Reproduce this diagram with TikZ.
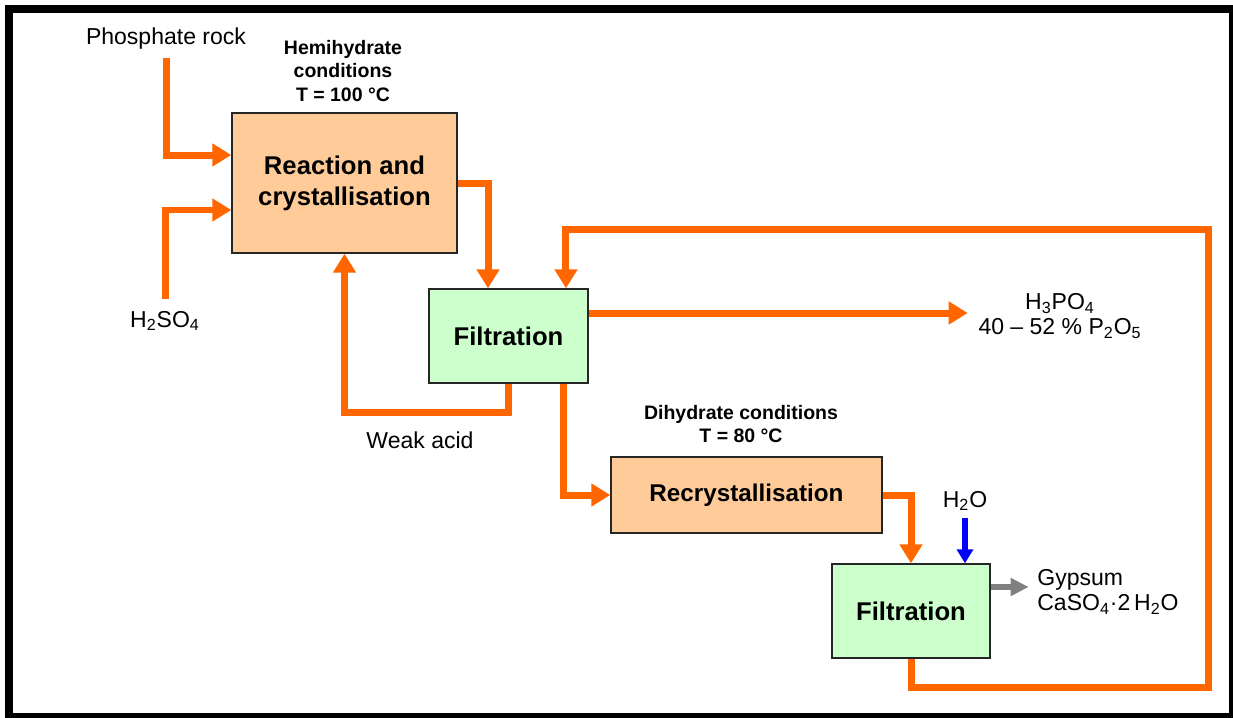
\documentclass[tikz,border=0pt]{standalone}
\usepackage{fontspec}
\setmainfont{Liberation Sans}
\usetikzlibrary{arrows.meta}

\definecolor{orangestream}{HTML}{FF6600}
\definecolor{peach}{HTML}{FFCC99}
\definecolor{mint}{HTML}{CCFFCC}

\begin{document}
\begin{tikzpicture}[x=0.02cm,y=-0.02cm,
		unitbox/.style={draw=black!85,line width=0.8pt,align=center,inner sep=0pt,
			font=\fontsize{14.6}{17.6}\selectfont\bfseries},
		hot/.style={unitbox,fill=peach},
		cold/.style={unitbox,fill=mint},
		note/.style={font=\fontsize{13.1}{14.4}\selectfont,align=center,inner sep=0pt},
		cond/.style={font=\fontsize{11.1}{13.4}\selectfont\bfseries,align=center,inner sep=0pt},
		stream/.style={draw=orangestream,line width=0.14cm,-{Triangle[length=0.38cm,width=0.44cm]}},
		water/.style={draw=blue,line width=0.12cm,-{Triangle[length=0.28cm,width=0.32cm]}},
		waste/.style={draw=gray,line width=0.13cm,-{Triangle[length=0.36cm,width=0.34cm]}}]
	\clip (0,0) rectangle (1233,717);
	\draw[line width=0.16cm] (9,9) rectangle (1233,717);
	% process units
	\node[hot,minimum width=4.5cm,minimum height=2.8cm] (rxn) at (344.5,183) {Reaction and\\crystallisation};
	\node[cold,minimum width=3.18cm,minimum height=1.88cm] (filt1) at (508.5,336) {Filtration};
	\node[hot,minimum width=5.42cm,minimum height=1.52cm,font=\fontsize{13.8}{16}\selectfont\bfseries] (recryst) at (746.5,495) {Recrystallisation};
	\node[cold,minimum width=3.16cm,minimum height=1.88cm] (filt2) at (911,611) {Filtration};
	% streams in and out
	\node[note,anchor=base] (rock) at (166,44) {Phosphate rock};
	\node[note,anchor=base] (acid) at (165,327) {H\textsubscript{2}SO\textsubscript{4}};
	\node[note] (weak) at (420,440) {Weak acid};
	\node[note] (prod) at (1060,316) {H\textsubscript{3}PO\textsubscript{4}\\40 -- 52 \% P\textsubscript{2}O\textsubscript{5}};
	\node[note,anchor=base] (h2o) at (965,507) {H\textsubscript{2}O};
	\node[note,anchor=west,align=left] (gyp) at (1037,592) {Gypsum\\CaSO\textsubscript{4}·2\,H\textsubscript{2}O};
	\node[cond] (hemi) at (343,71) {Hemihydrate\\conditions\\T = 100 °C};
	\node[cond] (dihyd) at (741,424) {Dihydrate conditions\\T = 80 °C};
	\coordinate (loop) at (1208,229);
	% connectors
	\draw[stream,shorten <=0.18cm] (rock.south) |- ([yshift=0.56cm]rxn.west);
	\draw[stream,shorten <=0.24cm] (acid.north) |- ([yshift=-0.54cm]rxn.west);
	\draw[stream] (rxn.east) -| ([xshift=-0.41cm]filt1.north);
	\draw[stream] (filt1.south) -- ++(0,29) -| (rxn.south);
	\draw[stream] ([yshift=0.46cm]filt1.east) -- ++(379,0);
	\draw[stream] ([xshift=1.11cm]filt1.south) |- (recryst.west);
	\draw[stream] (recryst.east) -| (filt2.north);
	\draw[stream] (filt2.south) -- ++(0,29) -| (loop) -| ([xshift=1.15cm]filt1.north);
	\draw[water,shorten <=0.14cm] (h2o.south) -- (h2o.south |- filt2.north);
	\draw[waste] ([yshift=0.48cm]filt2.east) -- ++(38,0);
\end{tikzpicture}
\end{document}
